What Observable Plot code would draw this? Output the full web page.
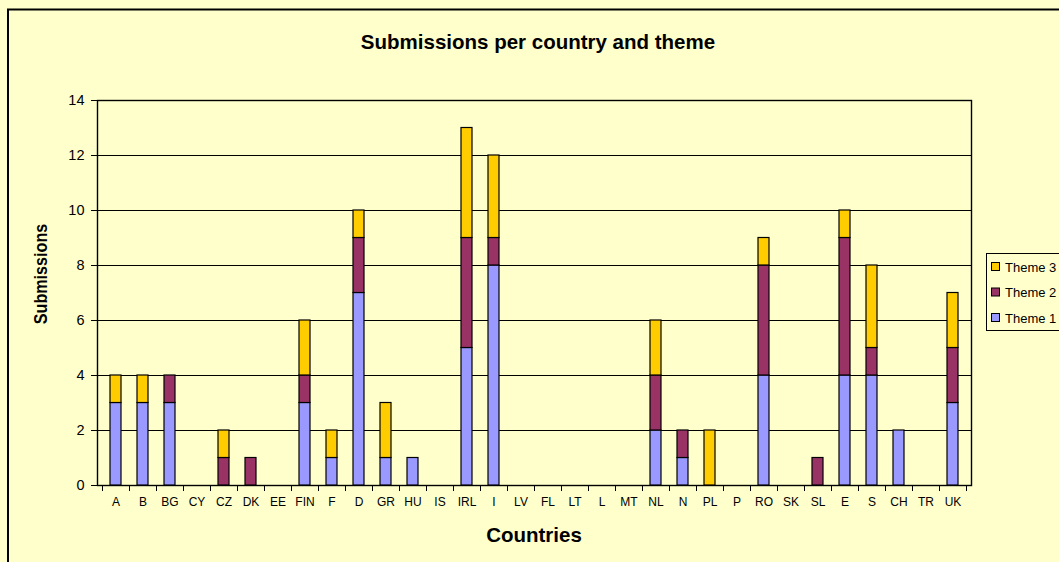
<!DOCTYPE html>
<html><head><meta charset="utf-8">
<script src="https://cdn.jsdelivr.net/npm/d3@7"></script>
<script src="https://cdn.jsdelivr.net/npm/@observablehq/plot@0.6"></script>
<style>body{margin:0;background:#fff}#chart svg{display:block}</style>
</head><body><div id="chart"></div>
<script>
const countries = ["A","B","BG","CY","CZ","DK","EE","FIN","F","D","GR","HU","IS","IRL","I","LV","FL","LT","L","MT","NL","N","PL","P","RO","SK","SL","E","S","CH","TR","UK"];
const themes = ["Theme 1","Theme 2","Theme 3"];
const theme1 = [3,3,3,0,0,0,0,3,1,7,1,1,0,5,8,0,0,0,0,0,2,1,0,0,4,0,0,4,4,2,0,3];
const theme2 = [0,0,1,0,1,1,0,1,0,2,0,0,0,4,1,0,0,0,0,0,2,1,0,0,4,0,1,5,1,0,0,2];
const theme3 = [1,1,0,0,1,0,0,2,1,1,2,0,0,4,3,0,0,0,0,0,2,0,2,0,1,0,0,1,3,0,0,2];
const yTicks = [0,2,4,6,8,10,12,14];
const colors = ["#9999FF","#993366","#FFCC00"];
const titleText = "Submissions per country and theme";
const xLabel = "Countries";
const yLabel = "Submissions";

const series = [theme1, theme2, theme3];
const rows = [];
countries.forEach((c, i) => series.forEach((s, k) => {
  if (s[i] > 0) rows.push({country: c, theme: themes[k], value: s[i]});
}));

const W = 1059, H = 562;
const FONT = "'Liberation Sans', Arial, sans-serif";
const chart = Plot.plot({
  width: W, height: H,
  marginLeft: 97, marginRight: 88, marginTop: 100, marginBottom: 77,
  style: {background: "#FFFFCC", fontFamily: FONT, color: "#000"},
  x: {domain: countries, paddingInner: 0.6, paddingOuter: 0.3, label: null},
  y: {domain: [0, 14], label: null},
  color: {domain: themes, range: colors},
  marks: [
    Plot.gridY(yTicks, {stroke: "#000", strokeOpacity: 1, strokeWidth: 1.2}),
    Plot.frame({stroke: "#000", strokeWidth: 1.4}),
    Plot.barY(rows, {x: "country", y: "value", fill: "theme", stroke: "#000", strokeWidth: 1.2}),
    Plot.axisY(yTicks, {tickSize: 6, tickPadding: 7, fontSize: 14.5, label: null, stroke: "#000"}),
    Plot.axisX({tickSize: 0, tickPadding: 12, fontSize: 12, label: null})
  ]
});

const svg = d3.select(chart);
const xs = chart.scale("x");
const ys = chart.scale("y");
const step = xs.step, bw = xs.bandwidth;
const x0 = xs.apply(countries[0]) - (step - bw) / 2;
const yb = ys.apply(0);
const tg = svg.append("g").attr("stroke", "#000").attr("stroke-width", 1);
for (let i = 0; i <= countries.length; i++) {
  const xx = Math.round(x0 + i * step) + 0.5;
  tg.append("line").attr("x1", xx).attr("x2", xx).attr("y1", yb).attr("y2", yb + 6);
}

// outer chart border
svg.append("rect").attr("x", 8).attr("y", 9.5).attr("width", W + 20).attr("height", H + 20)
  .attr("fill", "none").attr("stroke", "#000").attr("stroke-width", 2);

// title and axis labels
svg.append("text").attr("x", 538).attr("y", 49).attr("text-anchor", "middle")
  .attr("font-family", FONT).attr("font-weight", "bold").attr("font-size", 20.5).attr("fill", "#000").text(titleText);
svg.append("text").attr("x", 534).attr("y", 542).attr("text-anchor", "middle")
  .attr("font-family", FONT).attr("font-weight", "bold").attr("font-size", 20.5).attr("fill", "#000").text(xLabel);
svg.append("text").attr("transform", "translate(47,274) rotate(-90) scale(0.85,1)").attr("text-anchor", "middle")
  .attr("font-family", FONT).attr("font-weight", "bold").attr("font-size", 19).attr("fill", "#000").text(yLabel);

// legend
const cs = chart.scale("color");
const lg = svg.append("g");
lg.append("rect").attr("x", 986.5).attr("y", 253.5).attr("width", 100).attr("height", 77)
  .attr("fill", "#FFFFCC").attr("stroke", "#000").attr("stroke-width", 1);
const legendOrder = themes.slice().reverse();
legendOrder.forEach((t, i) => {
  const cy = 267 + i * 25.5;
  lg.append("rect").attr("x", 991.5).attr("y", cy - 4.5).attr("width", 8).attr("height", 8)
    .attr("fill", cs.apply(t)).attr("stroke", "#000").attr("stroke-width", 1);
  lg.append("text").attr("x", 1005).attr("y", cy + 4.5).attr("text-anchor", "start").attr("font-family", FONT)
    .attr("font-size", 13).attr("fill", "#000").text(t);
});

document.getElementById("chart").appendChild(chart);
</script>
</body></html>
